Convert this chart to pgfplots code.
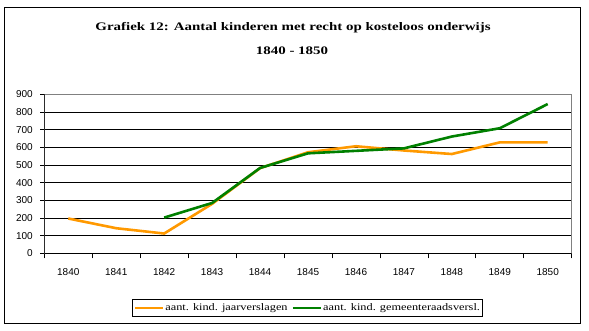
\documentclass[border=0pt]{standalone}
\usepackage{fontspec}
\setmainfont{Liberation Serif}
\newfontfamily\tickfont{Liberation Sans}
\usepackage{graphicx}
\usepackage{pgfplots}
\pgfplotsset{compat=1.18}
\definecolor{cOrange}{RGB}{255,153,0}
\definecolor{cGreen}{RGB}{0,128,0}
\begin{document}
\begin{tikzpicture}[x=1bp,y=-1bp]
\path[use as bounding box] (0,0) rectangle (589,330);
\draw[black, line width=1bp] (4.3,7) rectangle (580.7,323.3);
\node[font=\bfseries\fontsize{11.5bp}{13bp}\selectfont, inner sep=0pt] at (293,27.5) {\scalebox{1.3}[1]{Grafiek 12: Aantal kinderen met recht op kosteloos onderwijs}};
\node[font=\bfseries\fontsize{11.5bp}{13bp}\selectfont, inner sep=0pt] at (292,51) {\scalebox{1.3}[1]{1840 - 1850}};
\begin{axis}[
  at={(44.3bp,-253.3bp)}, anchor=south west,
  scale only axis, width=527.4bp, height=159bp,
  xmin=1839.5, xmax=1850.5, ymin=0, ymax=900,
  xtick={1840,1841,1842,1843,1844,1845,1846,1847,1848,1849,1850},
  xticklabels={1840,1841,1842,1843,1844,1845,1846,1847,1848,1849,1850},
  minor xtick={1839.5,1840.5,1841.5,1842.5,1843.5,1844.5,1845.5,1846.5,1847.5,1848.5,1849.5,1850.5},
  ytick={0,100,200,300,400,500,600,700,800,900},
  tick align=outside,
  major tick length=4bp, minor tick length=5bp,
  major x tick style={draw=none},
  xtick pos=bottom, ytick pos=left,
  minor x tick style={black, line width=0.75bp},
  major y tick style={black, line width=0.75bp},
  ymajorgrids, major grid style={black, line width=0.75bp},
  axis line style={gray, line width=0.75bp},
  ticklabel style={font=\tickfont\fontsize{10bp}{12bp}\selectfont},
  /pgf/number format/assume math mode=true,
  yticklabel style={xshift=-4bp},
  xticklabel style={yshift=-8bp},
  legend style={at={(0.4988,-0.344)}, anchor=center, draw=black, line width=0.75bp,
    font=\fontsize{10bp}{12bp}\selectfont, legend columns=2,
    inner xsep=1bp, inner ysep=3bp,
    nodes={inner sep=1bp},
    /tikz/every even column/.append style={column sep=3bp}},
  legend image code/.code={\draw[#1, line width=2.6bp] (0bp,0bp) -- (28bp,0bp);},
]
\addplot[cOrange, line width=2.6bp] coordinates {(1840,197) (1841,142) (1842,112) (1843,280) (1844,482) (1845,572) (1846,606) (1847,582) (1848,562) (1849,628) (1850,628)};
\addlegendentry{\scalebox{1.23}[1]{aant. kind. jaarverslagen}}
\addplot[cGreen, line width=2.6bp] coordinates {(1842,202) (1843,285) (1844,483) (1845,566) (1846,580) (1847,594) (1848,661) (1849,708) (1850,845)};
\addlegendentry{\scalebox{1.23}[1]{aant. kind. gemeenteraadsversl.}}
\draw[black, line width=0.75bp] (rel axis cs:0,1) -- (rel axis cs:0,0) -- (rel axis cs:1,0);
\end{axis}
\end{tikzpicture}
\end{document}
